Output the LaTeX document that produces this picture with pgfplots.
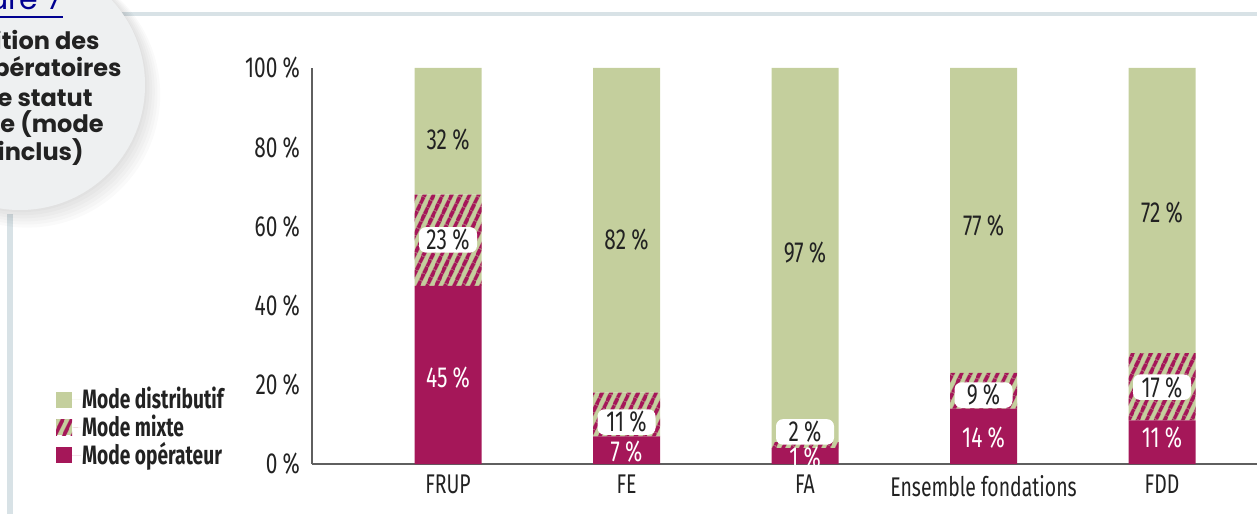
\documentclass[border=0pt]{standalone}
\usepackage{fontspec}
\setmainfont{Fira Sans}[FakeStretch=0.72]
\newfontfamily\titlefont{Poppins}
\usepackage{pgfplots}
\pgfplotsset{compat=1.18}
\usetikzlibrary{patterns.meta}
\definecolor{cgreen}{RGB}{196,207,157}
\definecolor{cmag}{RGB}{165,23,89}
\definecolor{ctext}{RGB}{34,34,34}
\definecolor{cband}{RGB}{216,226,230}
\definecolor{cblue}{RGB}{0,0,145}
\definecolor{ccircle}{RGB}{238,240,241}
\definecolor{caxis}{RGB}{95,95,95}

\pgfplotstableread{
x op mix dis
0 45 23 32
1 7 11 82
2 4 1.5 94.5
3 14 9 77
4 11 17 72
}\data

\newcommand{\pc}[1]{#1\hspace{2.6pt}\%}

\pgfplotsset{common/.style={
  at={(156pt,25pt)}, anchor=south west,
  scale only axis, width=472.5pt, height=198pt,
  xmin=-0.7619, xmax=4.5322,
  ymin=0, ymax=100, enlarge y limits=false, enlarge x limits=false,
  clip=false}}

\begin{document}
\begin{tikzpicture}[
  lab/.style={font=\fontsize{14.5}{16}\selectfont, text=ctext, inner sep=1pt},
  blab/.style={lab, fill=white, rounded corners=3.5pt, minimum width=29pt, minimum height=12.5pt},
  wlab/.style={lab, text=white},
]
\useasboundingbox (0,0) rectangle (628.5pt,257pt);
\begin{scope}[x=0.5pt,y=0.5pt]
  \fill[cband] (110,498) rectangle (1257,502);
  \fill[cband] (7,0) rectangle (13,300);
  \foreach \k in {1,...,6}{
    \fill[black,opacity=0.018] (20+1.2*\k,429-1.6*\k) circle (124+1.5*\k);
  }
  \fill[ccircle] (20,429) circle (125);
  \node[anchor=base east, text=cblue, font=\titlefont\fontsize{15}{18}\selectfont, inner sep=0pt] at (63,504) {Figure 7};
  \draw[cblue, line width=1pt] (0,497) -- (63,497);
  \begin{scope}[every node/.style={anchor=base east, inner sep=0pt, text=ctext, font=\titlefont\bfseries\fontsize{12}{14}\selectfont}]
    \node at (100,464) {Répartition des};
    \node at (122,437) {modes opératoires};
    \node at (93,407) {selon le statut};
    \node at (104,381) {juridique (mode};
    \node at (84,353) {mixte\hspace{2pt} inclus)};
  \end{scope}
\end{scope}
\begin{axis}[
  common,
  ybar stacked, bar width=33.5pt,
  xtick={0,...,4},
  xticklabels={FRUP,FE,FA,Ensemble fondations,FDD},
  ytick={0,20,...,100},
  yticklabel={\pc{\pgfmathprintnumber{\tick}}},
  /pgf/number format/assume math mode=true,
  tick label style={font=\fontsize{13.5}{15}\selectfont, text=ctext},
  yticklabel style={font=\fontsize{14.5}{16}\selectfont, xshift=-2.5pt},
  xticklabel style={yshift=-2pt},
  major tick length=0pt,
  axis x line*=bottom, axis y line*=left,
  separate axis lines,
  x axis line style={draw=caxis, line width=1pt, -},
  y axis line style={draw=caxis, line width=1pt, -},
  reverse legend,
  legend cell align=left,
  legend style={at={(-0.2775,0.2074)}, anchor=north west, draw=none, fill=none,
     font=\bfseries\fontsize{13.3}{14}\selectfont\strut, text=ctext, row sep=0.5pt,
     nodes={inner sep=0.5pt}},
  legend image code/.code={\fill[#1] (0pt,-4pt) rectangle (8pt,4pt); \path (8pt,0pt) -- (12.5pt,0pt);},
]
\addplot[fill=cmag, draw=none] table[x=x,y=op]{\data};
\addlegendentry{Mode opérateur}
\addplot[fill=cgreen, draw=none, postaction={pattern={Lines[angle=65,distance=4pt,line width=2.1pt]}, pattern color=cmag}] table[x=x,y=mix]{\data};
\addlegendentry{Mode mixte}
\addplot[fill=cgreen, draw=none] table[x=x,y=dis]{\data};
\addlegendentry{Mode distributif}
\end{axis}
\begin{axis}[common, hide axis]
\node[lab] at (axis cs:0,81.8) {\pc{32}};
\node[blab] at (axis cs:0,56.6) {\pc{23}};
\node[wlab] at (axis cs:0,21.7) {\pc{45}};
\node[lab] at (axis cs:1,56.6) {\pc{82}};
\node[blab] at (axis cs:1,10.6) {\pc{11}};
\node[wlab] at (axis cs:1,3.0) {\pc{7}};
\node[lab] at (axis cs:2,53.3) {\pc{97}};
\node[blab] at (axis cs:2,8.1) {\pc{2}};
\node[wlab] at (axis cs:2,1.5) {\pc{1}};
\node[lab] at (axis cs:3,60.1) {\pc{77}};
\node[blab] at (axis cs:3,17.4) {\pc{9}};
\node[wlab] at (axis cs:3,6.6) {\pc{14}};
\node[lab] at (axis cs:4,63.4) {\pc{72}};
\node[blab] at (axis cs:4,19.4) {\pc{17}};
\node[wlab] at (axis cs:4,6.6) {\pc{11}};
\end{axis}
\end{tikzpicture}
\end{document}
